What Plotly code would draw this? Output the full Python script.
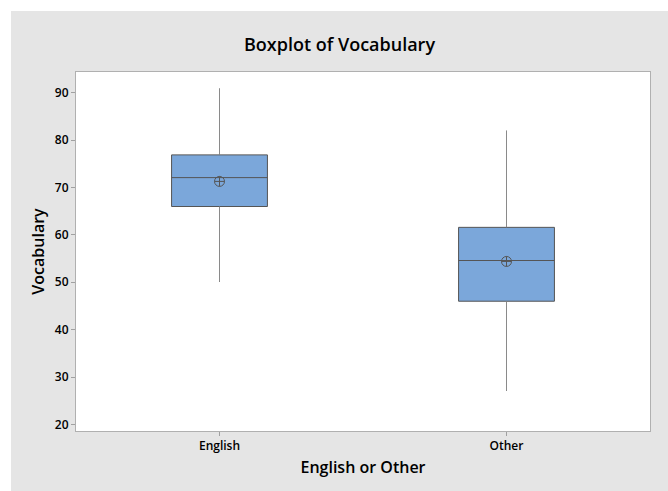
import plotly.graph_objects as go

categories = ["English", "Other"]
q1 = [66.0, 46.0]
median = [72.1, 54.6]
q3 = [76.9, 61.6]
lower_whisker = [50.1, 27.1]
upper_whisker = [90.9, 82.0]
means = [71.3, 54.4]
y_ticks = [20, 30, 40, 50, 60, 70, 80, 90]

FONT = "Open Sans"
fig = go.Figure()

fig.add_trace(go.Box(
    x=categories, q1=q1, median=median, q3=q3,
    lowerfence=lower_whisker, upperfence=upper_whisker,
    fillcolor="#7ba7da", line=dict(color="#555555", width=1),
    whiskerwidth=0, width=0.334, boxpoints=False, showlegend=False,
    hoverinfo="skip",
))

# lighter whisker lines (drawn over the box-trace whiskers)
for i, c in enumerate(categories):
    fig.add_trace(go.Scatter(x=[c, c], y=[q3[i], upper_whisker[i]], mode="lines",
                             line=dict(color="#8a8a8a", width=1), showlegend=False, hoverinfo="skip"))
    fig.add_trace(go.Scatter(x=[c, c], y=[lower_whisker[i], q1[i]], mode="lines",
                             line=dict(color="#8a8a8a", width=1), showlegend=False, hoverinfo="skip"))

fig.add_trace(go.Scatter(
    x=categories, y=means, mode="markers",
    marker=dict(symbol="circle-cross-open", size=10, color="#555555", line=dict(width=1)),
    showlegend=False, hoverinfo="skip",
))

W, H = 657, 480
fig.update_layout(
    width=W, height=H,
    paper_bgcolor="#e5e5e5", plot_bgcolor="#ffffff",
    margin=dict(l=65, r=18, t=61, b=60),
    font=dict(family=FONT, color="#000000"),
    title=dict(text="Boxplot of Vocabulary", x=0.5, xanchor="center",
               y=1 - 34 / H, yanchor="middle",
               font=dict(size=18, family=FONT, weight=600)),
)
fig.update_xaxes(
    range=[-0.5, 1.5], showgrid=False, zeroline=False,
    showline=True, linecolor="#b0b0b0", mirror=True,
    ticks="outside", ticklen=4, tickcolor="#a0a0a0",
    tickfont=dict(size=12, family=FONT, weight=600),
    title=dict(text="English or Other", font=dict(size=16, family=FONT, weight=600), standoff=8),
)
fig.update_yaxes(
    range=[18.6, 94.4], tickvals=y_ticks, showgrid=False, zeroline=False,
    showline=True, linecolor="#b0b0b0", mirror=True,
    ticks="outside", ticklen=4, tickcolor="#a0a0a0",
    tickfont=dict(size=12, family=FONT, weight=600),
    title=dict(text="Vocabulary", font=dict(size=16, family=FONT, weight=600), standoff=6),
)

fig.write_html("out.html", post_script="document.body.style.margin='11px 0 0 11px';")
